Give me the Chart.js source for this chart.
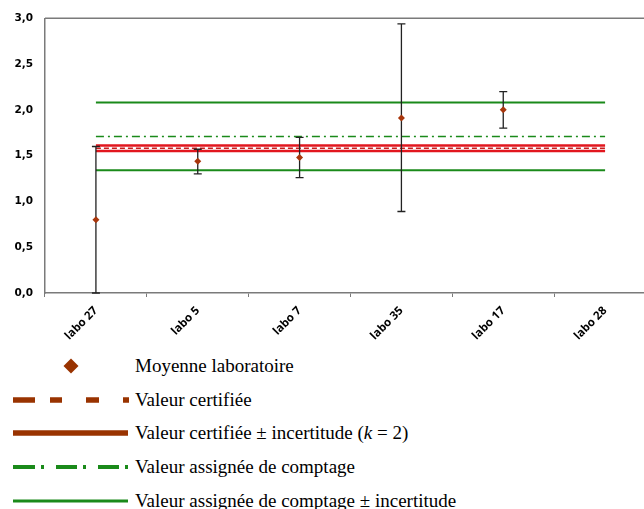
<!DOCTYPE html>
<html>
<head>
<meta charset="utf-8">
<script src="https://cdn.jsdelivr.net/npm/chart.js@4.4.1/dist/chart.umd.min.js"></script>
<style>
  html, body { margin: 0; padding: 0; background: #fff; overflow: hidden; width: 644px; height: 509px; }
  #wrap { position: absolute; left: 0; top: 0; width: 660px; height: 345px; }
  #legende { position: absolute; left: 0; top: 349px; width: 644px;
    font-family: "Liberation Serif", "Times New Roman", serif; font-size: 19px; color: #000; }
  .ligne { display: flex; align-items: center; height: 33.75px; }
  .ligne svg { flex: none; }
  .ligne span { margin-left: 6px; white-space: nowrap; }
</style>
</head>
<body>
<div id="wrap"><canvas id="graphe" width="660" height="345"></canvas></div>
<div id="legende">
  <div class="ligne">
    <svg width="129" height="20"><polygon points="71,2.5 78.5,10 71,17.5 63.5,10" fill="#993300"/></svg>
    <span>Moyenne laboratoire</span>
  </div>
  <div class="ligne">
    <svg width="129" height="20"><line x1="13" y1="10" x2="129" y2="10" stroke="#993300" stroke-width="5.5" stroke-dasharray="22 15 12 24 13 24 6"/></svg>
    <span>Valeur certifiée</span>
  </div>
  <div class="ligne">
    <svg width="129" height="20"><line x1="13" y1="10" x2="128" y2="10" stroke="#993300" stroke-width="5.5"/></svg>
    <span>Valeur certifiée ± incertitude (<i>k</i> = 2)</span>
  </div>
  <div class="ligne">
    <svg width="129" height="20"><line x1="13" y1="10" x2="129" y2="10" stroke="#1a8a1a" stroke-width="4" stroke-dasharray="22 6 3 12 21 6 3 12 21 6 3"/></svg>
    <span>Valeur assignée de comptage</span>
  </div>
  <div class="ligne">
    <svg width="129" height="20"><line x1="13" y1="10" x2="128" y2="10" stroke="#1a8a1a" stroke-width="3"/></svg>
    <span>Valeur assignée de comptage ± incertitude</span>
  </div>
</div>
<script>
// Données
var labos = ["labo 27", "labo 5", "labo 7", "labo 35", "labo 17", "labo 28"];
var moyenne = [0.80, 1.44, 1.48, 1.91, 2.00, null];
var erreurBas = [0.00, 1.30, 1.26, 0.89, 1.80, null];
var erreurHaut = [1.60, 1.57, 1.70, 2.94, 2.20, null];

var valeurCertifiee = [1.58, 1.58, 1.58, 1.58, 1.58, 1.58];
var certifieeHaut = [1.61, 1.61, 1.61, 1.61, 1.61, 1.61];
var certifieeBas = [1.55, 1.55, 1.55, 1.55, 1.55, 1.55];

var valeurAssignee = [1.71, 1.71, 1.71, 1.71, 1.71, 1.71];
var assigneeHaut = [2.08, 2.08, 2.08, 2.08, 2.08, 2.08];
var assigneeBas = [1.34, 1.34, 1.34, 1.34, 1.34, 1.34];

var couleurAxe = "#7a7a7a";

// Barres d'erreur, dessinées juste avant les points
var barresErreur = {
  id: "barresErreur",
  beforeDatasetDraw: function (chart, args) {
    if (args.index !== 0) return;
    var ctx = chart.ctx;
    var x = chart.scales.x;
    var y = chart.scales.y;
    ctx.save();
    ctx.strokeStyle = "#222";
    ctx.lineWidth = 1.3;
    for (var i = 0; i < labos.length; i++) {
      if (erreurBas[i] == null) continue;
      var px = x.getPixelForValue(i);
      var yb = y.getPixelForValue(erreurBas[i]);
      var yh = y.getPixelForValue(erreurHaut[i]);
      ctx.beginPath();
      ctx.moveTo(px, yb);
      ctx.lineTo(px, yh);
      ctx.moveTo(px - 4, yh);
      ctx.lineTo(px + 4, yh);
      ctx.moveTo(px - 4, yb);
      ctx.lineTo(px + 4, yb);
      ctx.stroke();
    }
    ctx.restore();
  },
};

// Bordure haute de la zone de tracé
var bordureHaut = {
  id: "bordureHaut",
  beforeDatasetsDraw: function (chart) {
    var a = chart.chartArea;
    var ctx = chart.ctx;
    ctx.save();
    ctx.strokeStyle = couleurAxe;
    ctx.lineWidth = 1.5;
    ctx.beginPath();
    ctx.moveTo(a.left, a.top);
    ctx.lineTo(a.right, a.top);
    ctx.stroke();
    ctx.restore();
  },
};

function ligne(data, couleur, epaisseur, tirets) {
  return {
    type: "line",
    data: data,
    borderColor: couleur,
    borderWidth: epaisseur,
    borderDash: tirets || [],
    pointRadius: 0,
    fill: false,
    tension: 0,
  };
}

const ctx = document.getElementById("graphe").getContext("2d");
new Chart(ctx, {
  type: "line",
  data: {
    labels: labos,
    datasets: [
      {
        label: "Moyenne laboratoire",
        data: moyenne,
        showLine: false,
        pointStyle: "rectRot",
        pointRadius: 3.5,
        backgroundColor: "#a8360c",
        borderColor: "#a8360c",
        borderWidth: 0,
      },
      ligne(valeurCertifiee, "#c81e1e", 1.5, [5, 3]),
      ligne(certifieeHaut, "#e2161e", 2.5),
      ligne(certifieeBas, "#e2161e", 2.5),
      ligne(valeurAssignee, "#1a8a1a", 1.5, [8, 4, 2, 4]),
      ligne(assigneeHaut, "#1a8a1a", 2),
      ligne(assigneeBas, "#1a8a1a", 2),
    ],
  },
  options: {
    responsive: false,
    animation: false,
    layout: { padding: { left: 0, right: 3, top: 16, bottom: 0 } },
    plugins: {
      legend: { display: false },
      tooltip: { enabled: false },
    },
    scales: {
      x: {
        offset: true,
        afterFit: function (s) { s.height = 52; },
        grid: {
          offset: true,
          drawOnChartArea: false,
          drawTicks: true,
          tickLength: 4,
          color: couleurAxe,
        },
        border: { display: true, color: couleurAxe, width: 1.5 },
        ticks: {
          maxRotation: 45,
          minRotation: 45,
          padding: 7,
          color: "#000",
          font: { family: "'Open Sans'", size: 11.5, weight: "bold" },
        },
      },
      y: {
        min: 0,
        max: 3,
        afterFit: function (s) { s.width = 45; },
        grid: { display: false, drawTicks: false },
        border: { display: true, color: couleurAxe, width: 1.5 },
        ticks: {
          stepSize: 0.5,
          padding: 12,
          color: "#000",
          font: { family: "'DejaVu Sans'", size: 10.5, weight: "bold" },
          callback: function (v) { return v.toFixed(1).replace(".", ","); },
        },
      },
    },
  },
  plugins: [barresErreur, bordureHaut],
});
</script>
</body>
</html>
